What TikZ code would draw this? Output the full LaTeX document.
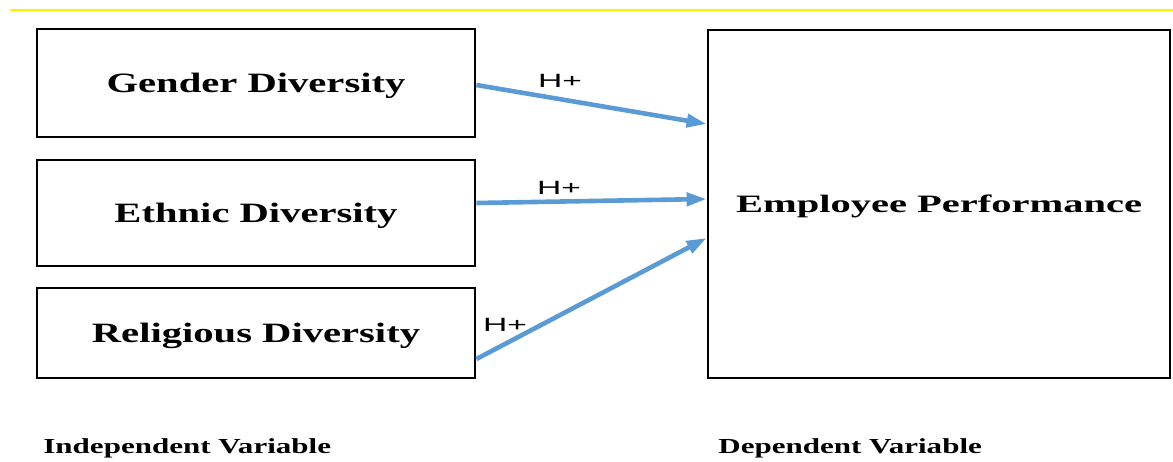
\documentclass[tikz,border=0pt]{standalone}
\usepackage{fontspec}
\usetikzlibrary{arrows.meta}

\newfontfamily\boxfont{Liberation Serif}[FakeStretch=1.45]
\newfontfamily\perffont{Liberation Serif}[FakeStretch=1.62]
\newfontfamily\hfont{Liberation Sans}[FakeStretch=1.75]
\definecolor{arrowblue}{RGB}{91,155,213}

\begin{document}
\begin{tikzpicture}[x=0.5pt, y=-0.5pt,
		box/.style={draw, line width=1.4pt, inner sep=0pt, text depth=0pt},
		link/.style={-{Triangle[length=10pt, width=6.5pt]}, draw=arrowblue, line width=2.3pt},
		hlabel/.style={font=\hfont\fontsize{9.6}{11}\selectfont, inner sep=0pt},
		varlabel/.style={font=\boxfont\bfseries\fontsize{10.7}{12}\selectfont, inner sep=0pt, anchor=west}]
		\useasboundingbox (0,0) rectangle (1173,461);
		\draw[yellow, line width=1pt] (10,10) -- (1173,10);

		\node[box, minimum width=219pt, minimum height=54pt, font=\boxfont\bfseries\fontsize{14}{16}\selectfont] (gender)    at (256,83)  {Gender Diversity};
		\node[box, minimum width=219pt, minimum height=53pt, font=\boxfont\bfseries\fontsize{14}{16}\selectfont] (ethnic)    at (256,213) {Ethnic Diversity};
		\node[box, minimum width=219pt, minimum height=45pt, font=\boxfont\bfseries\fontsize{14}{16}\selectfont] (religious) at (256,333) {Religious Diversity};
		\node[box, minimum width=231pt, minimum height=174pt, font=\perffont\bfseries\fontsize{12.5}{14}\selectfont] (perf) at (939,204) {Employee Performance};

		\draw[link] ([yshift=-1pt]gender.east)     -- ([yshift=40pt]perf.west);
		\draw[link] ([yshift=5pt]ethnic.east)      -- ([yshift=2.5pt]perf.west);
		\draw[link] ([yshift=-13pt]religious.east) -- ([yshift=-17pt]perf.west);

		\node[hlabel] (h1) at (560,81)  {H+};
		\node[hlabel] (h2) at (559,188) {H+};
		\node[hlabel] (h3) at (505,325) {H+};

		\node[varlabel] (indep) at (43,448)  {Independent Variable};
		\node[varlabel] (dep)   at (718,448) {Dependent Variable};
	\end{tikzpicture}
\end{document}
